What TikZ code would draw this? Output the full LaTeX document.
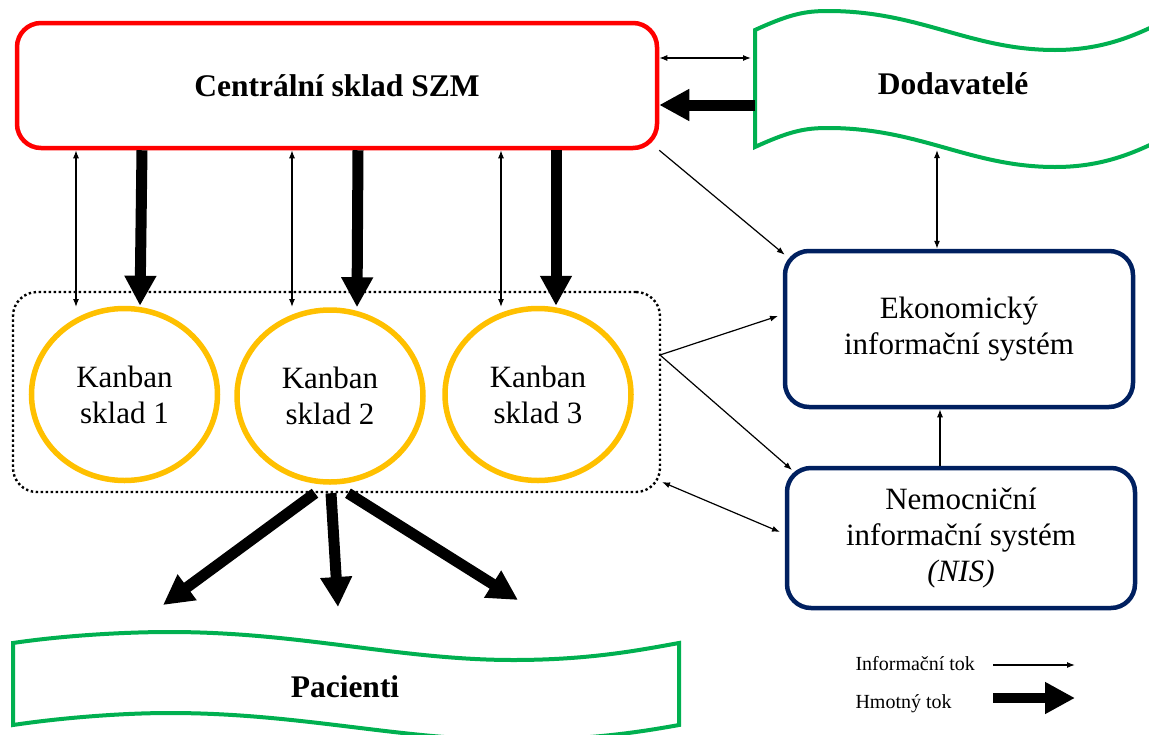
\documentclass[tikz,border=0pt]{standalone}
\usepackage{fontspec}
\setmainfont{Liberation Serif}
\usetikzlibrary{arrows.meta,shapes.geometric}

\definecolor{szmred}{HTML}{FF0000}
\definecolor{suppgreen}{HTML}{00B050}
\definecolor{kanbanyellow}{HTML}{FFC000}
\definecolor{isnavy}{HTML}{002060}

\tikzset{
  bigtext/.style={font=\fontsize{31}{36}\selectfont, align=center},
  titletext/.style={font=\bfseries\fontsize{31.5}{36}\selectfont},
  legendtext/.style={font=\fontsize{20}{24}\selectfont, anchor=base west},
  centralbox/.style={draw=szmred, line width=4.5pt, rounded corners=24pt,
    minimum width=640pt, minimum height=125pt, inner sep=0pt},
  isbox/.style={draw=isnavy, line width=4.5pt, rounded corners=24pt,
    minimum width=348pt, inner sep=0pt, bigtext},
  kanbanstore/.style={ellipse, draw=kanbanyellow, line width=5.5pt,
    minimum width=186pt, minimum height=172pt, inner sep=0pt, bigtext},
  groupbox/.style={draw, line width=2.4pt, dash pattern=on 2.4pt off 2.6pt,
    rounded corners=24pt, minimum width=647pt, minimum height=200pt},
  wavebox/.style={draw=suppgreen, line width=4pt, fill=white},
  infoflow/.style={line width=1.2pt, -{Latex[length=8pt,width=6pt]}},
  infoboth/.style={line width=1.2pt, {Latex[length=8pt,width=6pt]}-{Latex[length=8pt,width=6pt]}},
  matflow/.style={line width=11pt, -{Triangle[length=30pt,width=30pt]}},
}

\begin{document}
\begin{tikzpicture}[x=1pt,y=-1pt]
\useasboundingbox (0,0) rectangle (1149,734);

% suppliers banner
\draw[wavebox] (755,30) .. controls (790,14) and (805,11) .. (828,11)
  .. controls (920,11) and (970,50) .. (1055,50)
  .. controls (1095,50) and (1125,40) .. (1154,26)
  -- (1154,143)
  .. controls (1125,157) and (1095,167) .. (1055,167)
  .. controls (970,167) and (920,128) .. (828,128)
  .. controls (805,128) and (790,131) .. (755,147) -- cycle;
\node[titletext] (dod) at (953,84) {Dodavatelé};

% patients banner
\draw[wavebox] (13,643) .. controls (60,636) and (120,632) .. (170,632)
  .. controls (300,632) and (400,660) .. (513,660)
  .. controls (590,660) and (640,650) .. (679,643)
  -- (679,725)
  .. controls (640,732) and (590,740) .. (513,740)
  .. controls (400,740) and (300,713) .. (170,713)
  .. controls (120,713) and (60,718) .. (13,725) -- cycle;
\node[titletext] (pac) at (345,687) {Pacienti};

% central warehouse
\node[centralbox, titletext] (central) at (337,85.5) {Centrální sklad SZM};

% kanban group
\node[groupbox] (grp) at (336.5,392) {};
\node[kanbanstore] (k1) at (124.5,394.5) {Kanban\\sklad 1};
\node[kanbanstore] (k2) at (330,396) {Kanban\\sklad 2};
\node[kanbanstore] (k3) at (538,394.5) {Kanban\\sklad 3};

% information systems
\node[isbox, minimum height=156pt] (ek) at (959,329) {Ekonomický\\informační systém};
\node[isbox, minimum height=140pt] (nis) at (961,538)
  {Nemocniční\\informační systém\\\textit{(NIS)}};

% connector end points
\coordinate (dodA) at (751,58);
\coordinate (dodB) at (755,105);
\coordinate (dodC) at (937,150);
\coordinate (gout) at (660,355);
\coordinate (ekIn) at (778,316);
\coordinate (nisIn) at (792,470);
\coordinate (gcorner) at (662,482);
\coordinate (nisSide) at (780,532);
\coordinate (p1) at (163,605);
\coordinate (p2) at (338,607);
\coordinate (p3) at (518,600);

% information flows
\draw[infoboth] (central.east |- dodA) -- (dodA);
\draw[infoflow] (central.south east) -- ([shift={(2,6)}]ek.north west);
\draw[infoboth] (dodC) -- (dodC |- ek.north);
\draw[infoflow] (gout) -- (ekIn);
\draw[infoflow] (gout) -- (nisIn);
\draw[infoboth] (gcorner) -- (nisSide);
\draw[infoflow] (nis.north -| 940,0) -- (ek.south -| 940,0);
\draw[infoboth] (central.south -| 76,0) -- (76,307);
\draw[infoboth] (central.south -| 292,0) -- (292,307);
\draw[infoboth] (central.south -| 501,0) -- (501,307);

% material flows
\draw[matflow] (dodB) -- (central.east |- dodB);
\draw[matflow] (central.south -| 142,0) -- (k1.north -| 140,0);
\draw[matflow] (central.south -| 358,0) -- (k2.north -| 357,0);
\draw[matflow] (central.south -| 556,0) -- (k3.north -| 556,0);
\draw[matflow] (grp.south -| 315,0) -- (p1);
\draw[matflow] (grp.south -| 331,0) -- (p2);
\draw[matflow] (grp.south -| 348,0) -- (p3);

% legend
\node[legendtext] (leginfo) at (852,670) {Informační tok};
\node[legendtext] (legmat) at (852,708) {Hmotný tok};
\coordinate (li0) at (993,665);
\coordinate (li1) at (1075,665);
\coordinate (lm0) at (993,698);
\coordinate (lm1) at (1075,698);
\draw[infoflow] (li0) -- (li1);
\draw[matflow, line width=10pt] (lm0) -- (lm1);
\end{tikzpicture}
\end{document}
